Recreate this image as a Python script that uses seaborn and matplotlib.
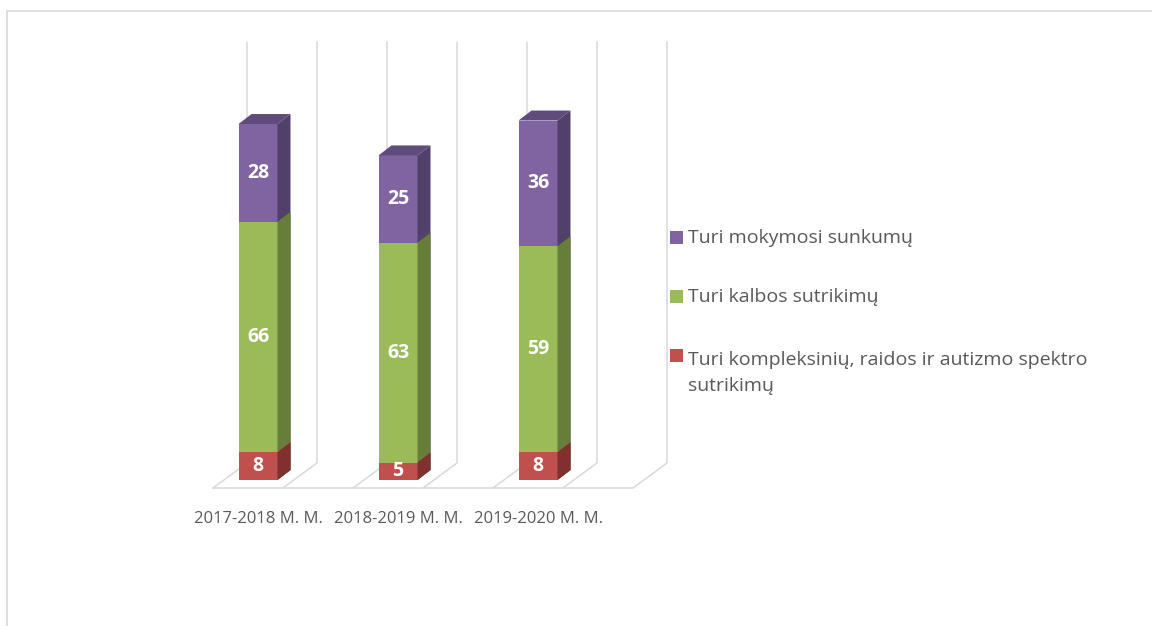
import numpy as np
import pandas as pd
import matplotlib
matplotlib.use("Agg")
import matplotlib.pyplot as plt
from matplotlib.patches import Polygon, Rectangle
import seaborn as sns

#%% Data
years = ["2017-2018 M. M.", "2018-2019 M. M.", "2019-2020 M. M."]
complex_dev = [8, 5, 8]        # Turi kompleksinių, raidos ir autizmo spektro sutrikimų
speech = [66, 63, 59]          # Turi kalbos sutrikimų
learning = [28, 25, 36]        # Turi mokymosi sunkumų
series_names = ["Turi mokymosi sunkumų",
                "Turi kalbos sutrikimų",
                "Turi kompleksinių, raidos ir autizmo spektro\nsutrikimų"]

df = pd.DataFrame({"year": years, "red": complex_dev, "green": speech, "purple": learning})
df["green_top"] = df["red"] + df["green"]
df["total"] = df["green_top"] + df["purple"]

#%% Style
sns.set_style("white")
plt.rcParams["font.family"] = ["Open Sans", "DejaVu Sans"]

c_purple, c_purple_side, c_purple_top = "#8064A2", "#51406A", "#604B7D"
c_green, c_green_side = "#9BBB59", "#677E3A"
c_red, c_red_side = "#C0504D", "#80302E"
grid_c = "#D9D9D9"
txt_c = "#595959"

W, H = 1152, 626
fig = plt.figure(figsize=(W / 100, H / 100), dpi=100)

# axes placed in pixel terms, data scale: 140 px per category, 3.49 px per unit
px_l, px_r, px_t, px_b = 190, 700, 30, 500
ax = fig.add_axes([px_l / W, (H - px_b) / H, (px_r - px_l) / W, (px_b - px_t) / H])

# 3D depth offsets
ddx, ddy = 13 / 140, 10 / 3.49        # bar depth
fdx, fdy = 34 / 140, 25 / 3.49        # floor depth
floor_front = -8 / 3.49
grid_top = (480 - 42) / 3.49

#%% Bars (stacked by overlaying cumulative totals)
bw = 39 / 140
layers = [("total", c_purple, c_purple_side), ("green_top", c_green, c_green_side), ("red", c_red, c_red_side)]
for col, fc, sc in layers:
    sns.barplot(data=df, x="year", y=col, color=fc, width=bw, saturation=1,
                edgecolor="none", linewidth=0, ax=ax, zorder=2)
    for bar in ax.containers[-1]:
        bx0 = bar.get_x()
        bx1 = bx0 + bar.get_width()
        h = bar.get_height()
        ax.add_patch(Polygon([(bx1, 0), (bx1 + ddx, ddy), (bx1 + ddx, h + ddy), (bx1, h)],
                             closed=True, facecolor=sc, edgecolor="none", zorder=2))
        if col == "total":
            ax.add_patch(Polygon([(bx0, h), (bx0 + ddx, h + ddy), (bx1 + ddx, h + ddy), (bx1, h)],
                                 closed=True, facecolor=c_purple_top, edgecolor="none", zorder=2))

# floor + back grid lines
x0 = -45 / 140
ax.plot([x0, x0 + 3], [floor_front, floor_front], color=grid_c, lw=1.1, zorder=0)
for k in range(7):
    xk = x0 + 0.5 * k
    ax.plot([xk, xk + fdx, xk + fdx], [floor_front, floor_front + fdy, grid_top],
            color=grid_c, lw=1.1, zorder=0)

# value labels
for i in range(len(years)):
    segs = [(0, complex_dev[i]), (complex_dev[i], speech[i]), (complex_dev[i] + speech[i], learning[i])]
    for b, v in segs:
        ax.text(i, b + v / 2, str(v), ha="center", va="center", color="white",
                fontsize=14, fontweight="bold", zorder=3)

#%% Axes cosmetics
sns.despine(ax=ax, left=True, bottom=True)
ax.set_xlabel("")
ax.set_ylabel("")
ax.set_yticks([])
ax.set_xticks(range(len(years)))
ax.set_xticklabels(years, fontsize=12, color=txt_c)
ax.tick_params(axis="x", length=0, pad=8)
ax.set_xlim((px_l - 258) / 140, (px_r - 258) / 140)
ax.set_ylim((480 - px_b) / 3.49, (480 - px_t) / 3.49)
ax.patch.set_alpha(0)

# chart frame
fig.patches.append(Rectangle((7 / W, -0.1), 1.2, (H - 11) / H + 0.1, transform=fig.transFigure,
                             facecolor="none", edgecolor=grid_c, lw=1.2, zorder=0))

# legend (square aligned with the first line of each entry)
leg_colors = [c_purple, c_green, c_red]
leg_y = [237, 296, 355]
line_h = 30
for name, c, yy in zip(series_names, leg_colors, leg_y):
    fig.patches.append(Rectangle((670 / W, 1 - (yy + 6.5) / H), 13 / W, 13 / H,
                                 transform=fig.transFigure, facecolor=c, edgecolor="none"))
    last_base = yy + 6 + line_h * name.count("\n")
    fig.text(688 / W, 1 - last_base / H, name, ha="left", va="baseline", fontsize=14,
             color=txt_c, linespacing=1.55)

fig.savefig("out.png", dpi=100)
